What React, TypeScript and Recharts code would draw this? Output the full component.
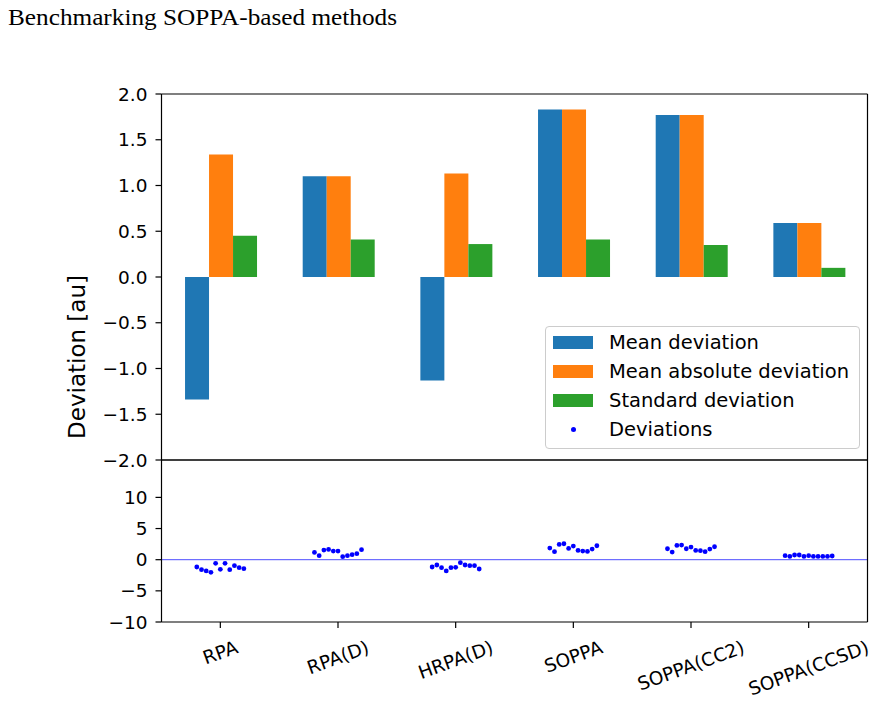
import React from 'react';
import {
  BarChart, Bar, ScatterChart, Scatter, XAxis, YAxis, Legend, ReferenceLine,
} from 'recharts';

const methods = ['RPA', 'RPA(D)', 'HRPA(D)', 'SOPPA', 'SOPPA(CC2)', 'SOPPA(CCSD)'];
const meanDeviation = [-1.34, 1.1, -1.13, 1.83, 1.77, 0.59];
const meanAbsDeviation = [1.34, 1.1, 1.13, 1.83, 1.77, 0.59];
const stdDeviation = [0.45, 0.41, 0.36, 0.41, 0.35, 0.1];

// individual deviations, 11 molecules per method
const devRPA = [-1.17, -1.6, -1.81, -2.03, -0.59, -1.55, -0.59, -1.6, -0.96, -1.28, -1.44];
const devRPAD = [1.17, 0.64, 1.55, 1.65, 1.39, 1.39, 0.48, 0.64, 0.8, 0.96, 1.6];
const devHRPAD = [-1.17, -0.85, -1.28, -1.81, -1.28, -1.23, -0.48, -0.85, -0.96, -0.96, -1.49];
const devSOPPA = [1.87, 1.28, 2.45, 2.56, 1.81, 2.19, 1.49, 1.39, 1.33, 1.71, 2.24];
const devCC2 = [1.76, 1.23, 2.29, 2.35, 1.76, 2.03, 1.49, 1.44, 1.28, 1.71, 2.08];
const devCCSD = [0.64, 0.53, 0.75, 0.75, 0.53, 0.64, 0.53, 0.53, 0.53, 0.53, 0.59];
const deviations = [devRPA, devRPAD, devHRPAD, devSOPPA, devCC2, devCCSD];

const topTicks = [-2, -1.5, -1, -0.5, 0, 0.5, 1, 1.5, 2];
const bottomTicks = [-10, -5, 0, 5, 10];

const BLUE = '#1f77b4';
const ORANGE = '#ff7f0e';
const GREEN = '#2ca02c';
const FONT = '"DejaVu Sans", sans-serif';
const TICK_FS = 18.5;

const barData = methods.map((name, i) => ({
  name,
  mean: meanDeviation[i],
  meanAbs: meanAbsDeviation[i],
  std: stdDeviation[i],
}));

// spread the dots of each method a little around its tick
const scatterData = deviations.flatMap((vals, i) =>
  vals.map((v, j) => ({ x: i - 0.2 + j * 0.04, y: v }))
);

const legendItems = [
  { label: 'Mean deviation', color: BLUE, kind: 'patch' },
  { label: 'Mean absolute deviation', color: ORANGE, kind: 'patch' },
  { label: 'Standard deviation', color: GREEN, kind: 'patch' },
  { label: 'Deviations', color: 'blue', kind: 'dot' },
];

const minus = (s: string) => s.replace('-', '\u2212');

let ctx: CanvasRenderingContext2D | null = null;
function textWidth(t: string) {
  if (!ctx) ctx = document.createElement('canvas').getContext('2d');
  if (!ctx) return t.length * TICK_FS * 0.6;
  ctx.font = `${TICK_FS}px "DejaVu Sans"`;
  return ctx.measureText(t).width;
}

function RotatedTick(props: any) {
  const { x, y, payload } = props;
  const label = methods[payload.value] ?? '';
  const w = textWidth(label);
  const rad = (20 * Math.PI) / 180;
  const h = w * Math.sin(rad) + TICK_FS * 0.73 * Math.cos(rad);
  const cy = y + 10 + h / 2;
  return (
    <text
      x={x}
      y={cy}
      textAnchor="middle"
      dominantBaseline="central"
      fontSize={TICK_FS}
      fontFamily={FONT}
      fill="#000"
      transform={`rotate(-20, ${x}, ${cy})`}
    >
      {label}
    </text>
  );
}

function LegendBox() {
  return (
    <div
      style={{
        width: 313,
        height: 120,
        border: '1px solid #cccccc',
        borderRadius: 4,
        background: 'rgba(255,255,255,0.8)',
        fontFamily: FONT,
        fontSize: 19.5,
        color: '#000',
        paddingTop: 1,
        boxSizing: 'content-box',
      }}
    >
      {legendItems.map((it) => (
        <div key={it.label} style={{ height: 29, display: 'flex', alignItems: 'center', position: 'relative' }}>
          {it.kind === 'patch' ? (
            <div style={{ position: 'absolute', left: 7, width: 40, height: 13, background: it.color }} />
          ) : (
            <div style={{ position: 'absolute', left: 25, width: 5, height: 5, borderRadius: 3, background: it.color }} />
          )}
          <span style={{ position: 'absolute', left: 63, lineHeight: '29px' }}>{it.label}</span>
        </div>
      ))}
    </div>
  );
}

const tickStyle = { fill: '#000', fontSize: TICK_FS, fontFamily: FONT };

export default function App() {
  return (
    <div style={{ position: 'relative', width: 880, height: 703, background: '#fff', overflow: 'hidden' }}>
      <style>{'body{margin:0}'}</style>
      <svg width={420} height={34} style={{ position: 'absolute', left: 0, top: 0 }}>
        <text
          x={8}
          y={25}
          fontFamily='"Liberation Serif", serif'
          fontSize={23}
          fill="#000"
          textLength={389}
          lengthAdjust="spacingAndGlyphs"
        >
          Benchmarking SOPPA-based methods
        </text>
      </svg>

      <div
        style={{
          position: 'absolute',
          left: 77,
          top: 357,
          transform: 'translate(-50%, -50%) rotate(-90deg)',
          fontFamily: FONT,
          fontSize: 23,
          whiteSpace: 'nowrap',
          color: '#000',
        }}
      >
        Deviation [au]
      </div>

      <div style={{ position: 'absolute', left: 0, top: 0 }}>
        <BarChart
          width={880}
          height={480}
          data={barData}
          margin={{ top: 93, right: 11.5, bottom: 19, left: 101.5 }}
          barCategoryGap="20%"
          barGap={0}
        >
          <XAxis xAxisId="main" dataKey="name" height={1} tick={false} tickLine={false} stroke="#000" strokeWidth={1.2} />
          <XAxis xAxisId="top" orientation="top" dataKey="name" height={1} tick={false} tickLine={false} stroke="#000" strokeWidth={1.2} />
          <YAxis
            yAxisId="left"
            domain={[-2, 2]}
            ticks={topTicks}
            width={60}
            tickSize={6}
            tickMargin={8}
            interval={0}
            stroke="#000"
            strokeWidth={1.2}
            tickFormatter={(v: number) => minus(v.toFixed(1))}
            tick={tickStyle}
          />
          <YAxis yAxisId="right" orientation="right" domain={[-2, 2]} width={1} tick={false} tickLine={false} stroke="#000" strokeWidth={1.2} />
          <Bar xAxisId="main" yAxisId="left" dataKey="mean" name="Mean deviation" fill={BLUE} isAnimationActive={false} />
          <Bar xAxisId="main" yAxisId="left" dataKey="meanAbs" name="Mean absolute deviation" fill={ORANGE} isAnimationActive={false} />
          <Bar xAxisId="main" yAxisId="left" dataKey="std" name="Standard deviation" fill={GREEN} isAnimationActive={false} />
          <Legend
            layout="horizontal"
            verticalAlign="middle"
            align="center"
            content={() => <LegendBox />}
            wrapperStyle={{ position: 'absolute', left: 545, top: 326, width: 315, height: 122 }}
          />
        </BarChart>
      </div>

      <div style={{ position: 'absolute', left: 0, top: 440 }}>
        <ScatterChart width={880} height={263} margin={{ top: 19, right: 11.5, bottom: 1, left: 101.5 }}>
          <XAxis
            xAxisId="main"
            type="number"
            dataKey="x"
            domain={[-0.5, 5.5]}
            ticks={[0, 1, 2, 3, 4, 5]}
            interval={0}
            allowDataOverflow
            height={80}
            tickSize={6}
            stroke="#000"
            strokeWidth={1.2}
            tick={<RotatedTick />}
          />
          <XAxis xAxisId="top" orientation="top" type="number" dataKey="x" domain={[-0.5, 5.5]} height={1} tick={false} tickLine={false} stroke="#000" strokeWidth={1.2} />
          <YAxis
            yAxisId="left"
            type="number"
            dataKey="y"
            domain={[-10, 16]}
            ticks={bottomTicks}
            allowDataOverflow
            width={60}
            tickSize={6}
            tickMargin={8}
            interval={0}
            stroke="#000"
            strokeWidth={1.2}
            tickFormatter={(v: number) => minus(String(v))}
            tick={tickStyle}
          />
          <YAxis yAxisId="right" orientation="right" type="number" domain={[-10, 16]} width={1} tick={false} tickLine={false} stroke="#000" strokeWidth={1.2} />
          <ReferenceLine xAxisId="main" yAxisId="left" y={0} stroke="blue" strokeOpacity={0.7} strokeWidth={1} />
          <Scatter
            xAxisId="main"
            yAxisId="left"
            data={scatterData}
            fill="blue"
            isAnimationActive={false}
            shape={(p: any) => <circle cx={p.cx} cy={p.cy} r={2.4} fill="blue" />}
          />
        </ScatterChart>
      </div>
    </div>
  );
}
